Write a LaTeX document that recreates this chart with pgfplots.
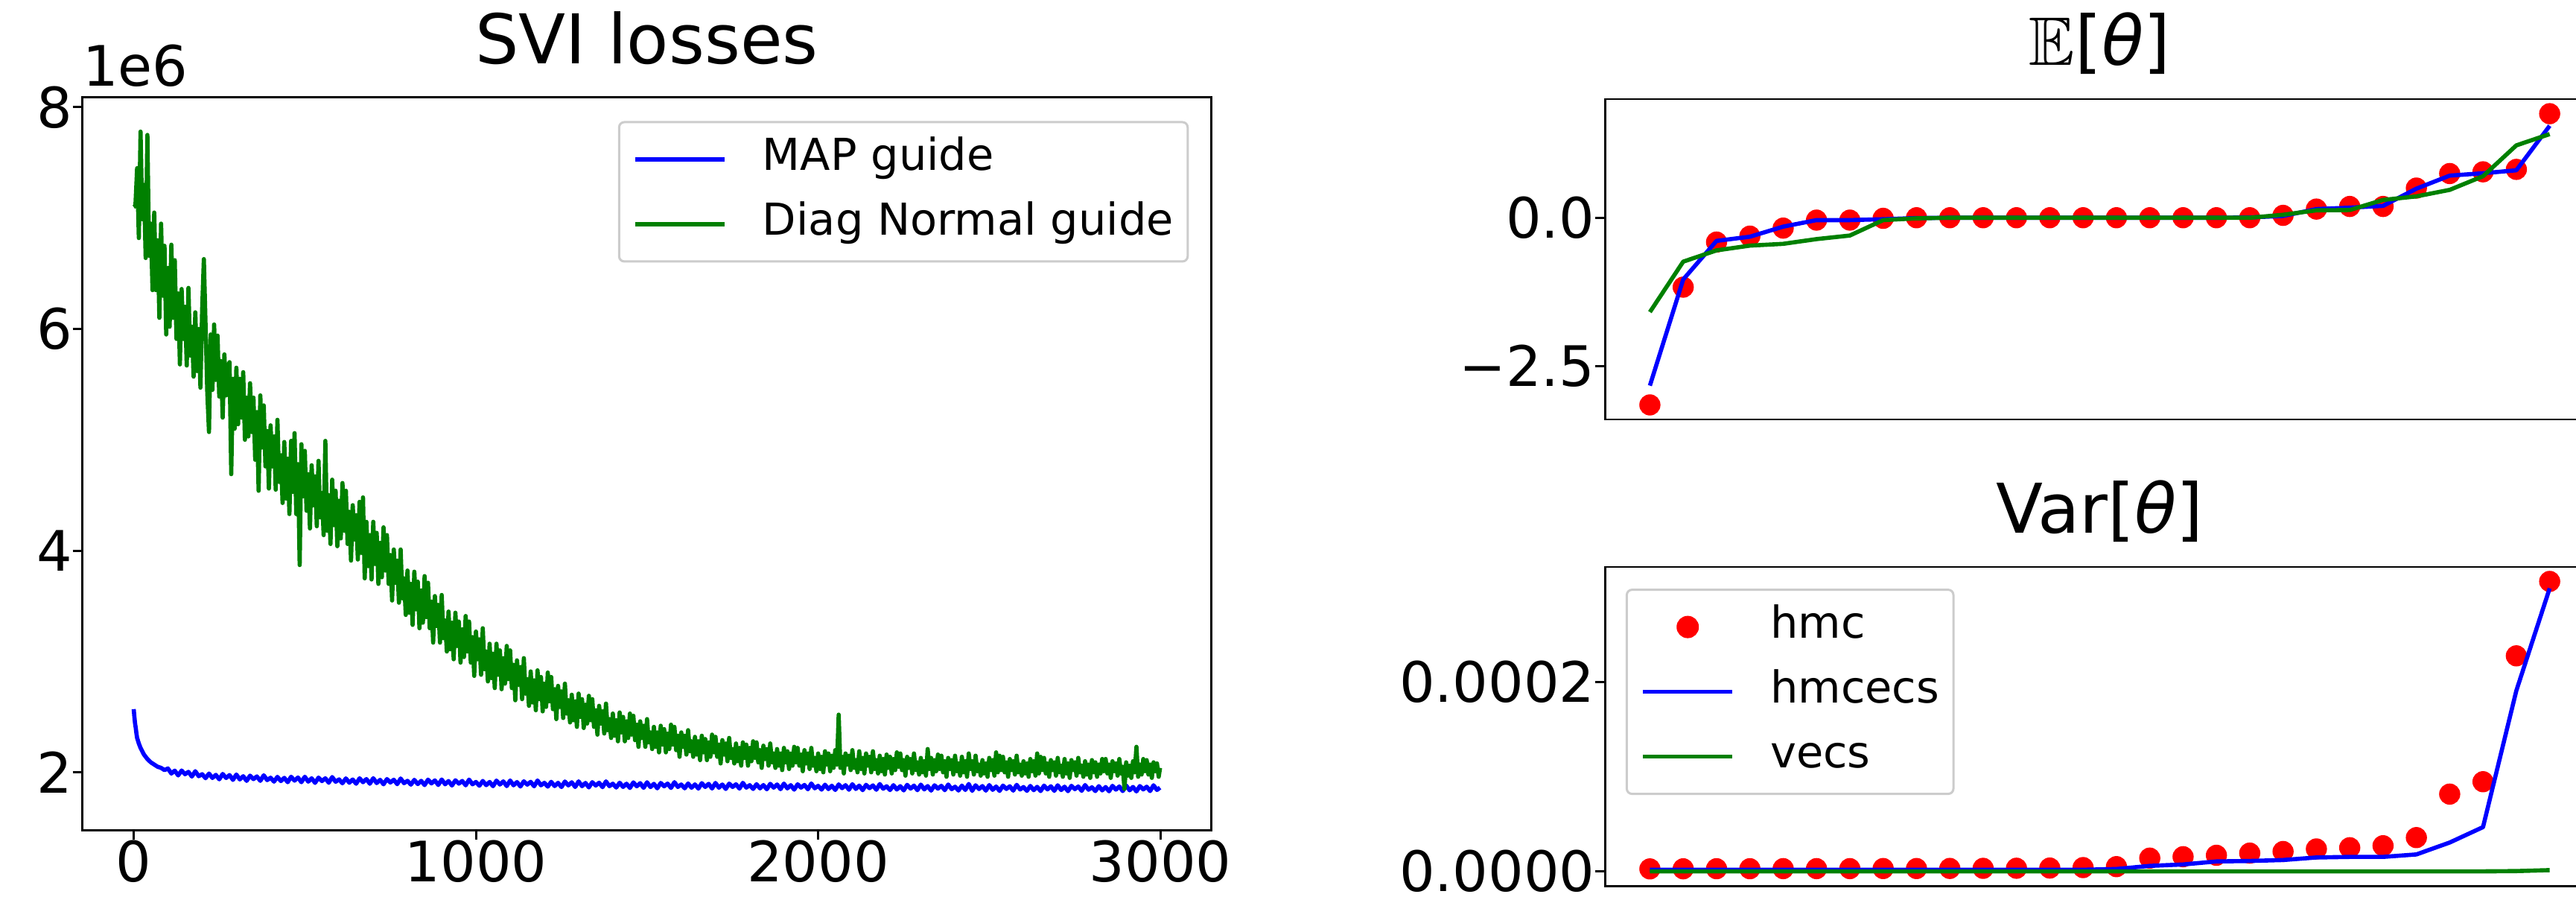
\documentclass[border=0pt]{standalone}
\usepackage{pgfplots}
\pgfplotsset{compat=1.18}
\usepackage{amssymb}
\usepackage{fontspec}
\setmainfont{DejaVu Sans}
\definecolor{mplblue}{RGB}{0,0,255}
\definecolor{mplgreen}{RGB}{0,128,0}
\definecolor{mplred}{RGB}{255,0,0}
\newcommand{\tickfont}{\fontsize{21.3}{25}\selectfont}
\newcommand{\titlefont}{\fontsize{26.2}{31}\selectfont}
\newcommand{\legfont}{\fontsize{16.8}{20}\selectfont}

\pgfplotstableread{
x y
0 2.57
2 2.50
4 2.44
6 2.40
8 2.35
10 2.31
15 2.26
20 2.22
25 2.19
30 2.16
40 2.12
50 2.09
60 2.07
70 2.05
80 2.04
90 2.02
100 2.035
110 1.989
120 2.015
130 1.972
140 2.016
150 1.983
160 2.004
170 1.962
180 2.010
190 1.965
200 1.983
210 1.947
220 1.989
230 1.949
240 1.977
250 1.937
260 1.985
270 1.949
280 1.975
290 1.932
300 1.980
310 1.936
320 1.965
330 1.923
340 1.970
350 1.939
360 1.963
370 1.923
380 1.973
390 1.930
400 1.951
410 1.916
420 1.959
430 1.921
440 1.950
450 1.911
460 1.960
470 1.925
480 1.953
490 1.911
500 1.960
510 1.916
520 1.946
530 1.905
540 1.952
550 1.921
560 1.946
570 1.906
580 1.957
590 1.915
600 1.936
610 1.901
620 1.945
630 1.906
640 1.935
650 1.897
660 1.946
670 1.911
680 1.939
690 1.897
700 1.947
710 1.903
720 1.932
730 1.892
740 1.939
750 1.908
760 1.933
770 1.893
780 1.944
790 1.902
800 1.923
810 1.889
820 1.932
830 1.894
840 1.923
850 1.885
860 1.934
870 1.900
880 1.927
890 1.886
900 1.935
910 1.892
920 1.921
930 1.881
940 1.928
950 1.898
960 1.922
970 1.883
980 1.934
990 1.892
1000 1.913
1010 1.879
1020 1.922
1030 1.884
1040 1.913
1050 1.875
1060 1.925
1070 1.890
1080 1.918
1090 1.876
1100 1.926
1110 1.883
1120 1.912
1130 1.872
1140 1.919
1150 1.889
1160 1.914
1170 1.874
1180 1.926
1190 1.883
1200 1.905
1210 1.871
1220 1.914
1230 1.876
1240 1.905
1250 1.867
1260 1.917
1270 1.882
1280 1.910
1290 1.868
1300 1.918
1310 1.875
1320 1.904
1330 1.864
1340 1.911
1350 1.881
1360 1.906
1370 1.866
1380 1.918
1390 1.875
1400 1.897
1410 1.863
1420 1.906
1430 1.868
1440 1.897
1450 1.859
1460 1.909
1470 1.874
1480 1.902
1490 1.860
1500 1.910
1510 1.867
1520 1.896
1530 1.856
1540 1.904
1550 1.874
1560 1.898
1570 1.859
1580 1.911
1590 1.868
1600 1.890
1610 1.856
1620 1.899
1630 1.861
1640 1.891
1650 1.853
1660 1.902
1670 1.868
1680 1.896
1690 1.854
1700 1.904
1710 1.861
1720 1.890
1730 1.850
1740 1.898
1750 1.868
1760 1.892
1770 1.853
1780 1.905
1790 1.862
1800 1.884
1810 1.850
1820 1.893
1830 1.855
1840 1.885
1850 1.847
1860 1.896
1870 1.862
1880 1.890
1890 1.848
1900 1.898
1910 1.855
1920 1.884
1930 1.844
1940 1.892
1950 1.862
1960 1.886
1970 1.847
1980 1.899
1990 1.856
2000 1.878
2010 1.844
2020 1.888
2030 1.849
2040 1.879
2050 1.841
2060 1.891
2070 1.857
2080 1.884
2090 1.843
2100 1.893
2110 1.850
2120 1.880
2130 1.839
2140 1.887
2150 1.857
2160 1.882
2170 1.843
2180 1.894
2190 1.852
2200 1.874
2210 1.840
2220 1.884
2230 1.845
2240 1.875
2250 1.837
2260 1.887
2270 1.853
2280 1.880
2290 1.839
2300 1.889
2310 1.846
2320 1.876
2330 1.835
2340 1.883
2350 1.853
2360 1.878
2370 1.839
2380 1.890
2390 1.848
2400 1.870
2410 1.836
2420 1.880
2430 1.841
2440 1.895
2450 1.833
2460 1.883
2470 1.849
2480 1.876
2490 1.835
2500 1.885
2510 1.842
2520 1.872
2530 1.832
2540 1.880
2550 1.850
2560 1.874
2570 1.835
2580 1.887
2590 1.845
2600 1.867
2610 1.833
2620 1.877
2630 1.839
2640 1.869
2650 1.831
2660 1.880
2670 1.846
2680 1.874
2690 1.833
2700 1.883
2710 1.840
2720 1.870
2730 1.830
2740 1.878
2750 1.848
2760 1.872
2770 1.833
2780 1.885
2790 1.843
2800 1.865
2810 1.831
2820 1.875
2830 1.837
2840 1.867
2850 1.829
2860 1.878
2870 1.844
2880 1.872
2890 1.831
2900 1.881
2910 1.838
2920 1.868
2930 1.828
2940 1.876
2950 1.846
2960 1.870
2970 1.831
2980 1.883
2990 1.841
2999 1.862
}\maptable

\pgfplotstableread{
x y
0 7.10
5 7.11
10 7.45
15 6.82
20 7.78
25 6.99
30 7.30
35 6.64
40 7.75
45 6.66
50 6.95
55 6.35
60 7.05
65 6.35
70 6.80
75 6.10
80 6.95
85 6.30
90 6.75
95 5.95
100 6.55
105 6.02
110 6.76
115 6.10
120 6.62
125 5.91
130 6.32
135 5.68
140 6.36
145 5.91
150 6.20
155 5.67
160 6.37
165 5.76
170 6.02
175 5.57
180 6.15
185 5.62
190 6.00
195 5.47
200 6.17
205 6.63
210 6.03
215 5.43
220 5.07
225 5.95
230 5.45
235 6.04
240 5.54
245 5.94
250 5.39
255 5.71
260 5.20
265 5.77
270 5.40
275 5.65
280 5.70
285 4.69
290 5.55
295 5.10
300 5.65
305 5.14
310 5.55
315 5.20
320 5.61
325 5.00
330 5.38
335 5.03
340 5.51
345 5.07
350 5.38
355 4.82
360 5.25
365 4.54
370 5.40
375 4.93
380 5.31
385 4.76
390 5.08
395 4.56
400 5.13
405 4.76
410 5.03
415 4.55
420 5.18
425 4.62
430 4.86
435 4.43
440 4.98
445 4.47
450 4.83
455 4.33
460 4.99
465 4.53
470 5.06
475 4.33
480 4.78
485 3.87
490 4.96
495 4.49
500 4.90
505 4.36
510 4.69
515 4.20
520 4.77
525 4.41
530 4.67
535 4.22
540 4.81
545 4.30
550 4.52
555 4.14
560 4.99
565 4.18
570 4.50
575 4.06
580 4.64
585 4.23
590 4.54
595 4.04
600 4.45
605 4.11
610 4.61
615 4.18
620 4.54
625 4.06
630 4.35
635 3.91
640 4.41
645 4.10
650 4.32
655 3.92
660 4.44
665 3.98
670 4.48
675 3.75
680 4.26
685 3.86
690 4.14
695 3.74
700 4.26
705 3.88
710 4.16
715 3.70
720 4.07
725 3.76
730 4.21
735 3.82
740 4.14
745 3.70
750 3.96
755 3.55
760 4.01
765 3.71
770 3.91
775 3.53
780 4.01
785 3.57
790 3.75
795 3.42
800 3.82
805 3.44
810 3.70
815 3.33
820 3.81
825 3.47
830 3.72
835 3.30
840 3.64
845 3.35
850 3.77
855 3.40
860 3.71
865 3.30
870 3.54
875 3.17
880 3.59
885 3.32
890 3.51
895 3.17
900 3.60
905 3.21
910 3.37
915 3.09
920 3.45
925 3.11
930 3.35
935 3.02
940 3.44
945 3.14
950 3.36
955 2.99
960 3.29
965 3.04
970 3.41
975 3.09
980 3.36
985 2.99
990 3.22
995 2.87
1000 3.27
1005 3.02
1010 3.20
1015 2.88
1020 3.30
1025 2.93
1030 3.09
1035 2.82
1040 3.16
1045 2.85
1050 3.07
1055 2.76
1060 3.16
1065 2.88
1070 3.10
1075 2.75
1080 3.03
1085 2.80
1090 3.14
1095 2.84
1100 3.10
1105 2.76
1110 2.97
1115 2.65
1120 3.01
1125 2.79
1130 2.95
1135 2.66
1140 3.03
1145 2.71
1150 2.84
1155 2.60
1160 2.91
1165 2.63
1170 2.83
1175 2.56
1180 2.92
1185 2.66
1190 2.86
1195 2.55
1200 2.80
1205 2.59
1210 2.90
1215 2.64
1220 2.86
1225 2.57
1230 2.75
1235 2.48
1240 2.78
1245 2.59
1250 2.73
1255 2.49
1260 2.80
1265 2.53
1270 2.65
1275 2.45
1280 2.70
1285 2.47
1290 2.64
1295 2.41
1300 2.71
1305 2.50
1310 2.66
1315 2.40
1320 2.61
1325 2.44
1330 2.69
1335 2.47
1340 2.66
1345 2.41
1350 2.56
1355 2.34
1360 2.60
1365 2.44
1370 2.55
1375 2.35
1380 2.62
1385 2.38
1390 2.48
1395 2.31
1400 2.53
1405 2.33
1410 2.47
1415 2.28
1420 2.54
1425 2.36
1430 2.50
1435 2.28
1440 2.46
1445 2.31
1450 2.53
1455 2.34
1460 2.51
1465 2.29
1470 2.43
1475 2.23
1480 2.46
1485 2.31
1490 2.42
1495 2.23
1500 2.48
1505 2.27
1510 2.36
1515 2.21
1520 2.41
1525 2.23
1530 2.36
1535 2.18
1540 2.42
1545 2.25
1550 2.39
1555 2.18
1560 2.35
1565 2.21
1570 2.43
1575 2.25
1580 2.41
1585 2.20
1590 2.33
1595 2.14
1600 2.36
1605 2.23
1610 2.33
1615 2.16
1620 2.38
1625 2.19
1630 2.28
1635 2.14
1640 2.32
1645 2.16
1650 2.28
1655 2.11
1660 2.33
1665 2.18
1670 2.30
1675 2.11
1680 2.27
1685 2.14
1690 2.34
1695 2.18
1700 2.32
1705 2.14
1710 2.25
1715 2.08
1720 2.29
1725 2.16
1730 2.26
1735 2.10
1740 2.31
1745 2.13
1750 2.21
1755 2.08
1760 2.26
1765 2.10
1770 2.22
1775 2.06
1780 2.27
1785 2.13
1790 2.25
1795 2.06
1800 2.22
1805 2.10
1810 2.28
1815 2.13
1820 2.27
1825 2.09
1830 2.20
1835 2.04
1840 2.24
1845 2.12
1850 2.21
1855 2.06
1860 2.26
1865 2.09
1870 2.17
1875 2.04
1880 2.21
1885 2.06
1890 2.17
1895 2.02
1900 2.22
1905 2.09
1910 2.19
1915 2.03
1920 2.17
1925 2.06
1930 2.23
1935 2.09
1940 2.22
1945 2.06
1950 2.16
1955 2.01
1960 2.20
1965 2.08
1970 2.17
1975 2.03
1980 2.22
1985 2.06
1990 2.13
1995 2.01
2000 2.17
2005 2.03
2010 2.14
2015 2.00
2020 2.19
2025 2.07
2030 2.17
2035 2.01
2040 2.15
2045 2.04
2050 2.20
2055 2.07
2060 2.52
2065 2.04
2070 2.14
2075 1.99
2080 2.17
2085 2.07
2090 2.15
2095 2.02
2100 2.20
2105 2.04
2110 2.11
2115 2.00
2120 2.19
2125 2.03
2130 2.13
2135 1.99
2140 2.17
2145 2.06
2150 2.14
2155 2.00
2160 2.19
2165 2.03
2170 2.11
2175 1.99
2180 2.15
2185 2.01
2190 2.12
2195 1.98
2200 2.16
2205 2.04
2210 2.14
2215 1.99
2220 2.12
2225 2.02
2230 2.18
2235 2.05
2240 2.17
2245 2.02
2250 2.11
2255 1.97
2260 2.14
2265 2.04
2270 2.12
2275 1.99
2280 2.17
2285 2.02
2290 2.09
2295 1.98
2300 2.13
2305 2.00
2310 2.10
2315 1.97
2320 2.21
2325 2.03
2330 2.13
2335 1.98
2340 2.11
2345 2.01
2350 2.16
2355 2.03
2360 2.15
2365 2.00
2370 2.10
2375 1.96
2380 2.13
2385 2.03
2390 2.11
2395 1.98
2400 2.15
2405 2.01
2410 2.08
2415 1.97
2420 2.14
2425 2.00
2430 2.10
2435 1.96
2440 2.17
2445 2.03
2450 2.10
2455 1.98
2460 2.15
2465 2.01
2470 2.07
2475 1.97
2480 2.11
2485 1.99
2490 2.08
2495 1.96
2500 2.13
2505 2.02
2510 2.11
2515 1.97
2520 2.18
2525 2.00
2530 2.15
2535 2.02
2540 2.14
2545 2.00
2550 2.09
2555 1.96
2560 2.12
2565 2.02
2570 2.10
2575 1.98
2580 2.15
2585 2.00
2590 2.07
2595 1.97
2600 2.10
2605 1.99
2610 2.08
2615 1.96
2620 2.12
2625 2.01
2630 2.10
2635 1.97
2640 2.17
2645 1.99
2650 2.14
2655 2.02
2660 2.13
2665 1.99
2670 2.08
2675 1.96
2680 2.11
2685 2.02
2690 2.09
2695 1.97
2700 2.13
2705 2.00
2710 2.06
2715 1.96
2720 2.12
2725 1.99
2730 2.08
2735 1.95
2740 2.11
2745 2.02
2750 2.09
2755 1.97
2760 2.13
2765 2.00
2770 2.06
2775 1.96
2780 2.10
2785 1.98
2790 2.07
2795 1.95
2800 2.11
2805 2.00
2810 2.09
2815 1.96
2820 2.07
2825 1.99
2830 2.12
2835 2.01
2840 2.12
2845 1.99
2850 2.07
2855 1.95
2860 2.10
2865 2.01
2870 2.08
2875 1.97
2880 2.12
2885 1.99
2890 2.05
2895 1.85
2900 2.09
2905 1.97
2910 2.06
2915 1.95
2920 2.10
2925 2.00
2930 2.23
2935 1.96
2940 2.07
2945 1.98
2950 2.12
2955 2.01
2960 2.11
2965 1.98
2970 2.07
2975 1.95
2980 2.09
2985 2.01
2990 2.08
2995 1.96
2999 2.04
}\diagtable

\pgfplotstableread{
i hmc hmcecs vecs
0 -3.155 -2.83 -1.59
1 -1.17 -1.04 -0.74
2 -0.41 -0.39 -0.55
3 -0.31 -0.32 -0.47
4 -0.175 -0.15 -0.44
5 -0.04 -0.04 -0.36
6 -0.04 -0.04 -0.30
7 -0.01 -0.025 -0.04
8 0.0 -0.005 -0.01
9 0.0 0.0 0.0
10 0.0 0.0 0.0
11 0.0 0.0 0.0
12 0.0 0.0 0.0
13 0.0 0.0 0.0
14 0.0 0.0 0.0
15 0.0 0.0 0.0
16 0.0 0.0 0.0
17 0.0 0.0 0.0
18 0.0 0.005 0.0
19 0.04 0.03 0.05
20 0.146 0.146 0.125
21 0.19 0.17 0.13
22 0.19 0.20 0.30
23 0.50 0.49 0.36
24 0.745 0.71 0.47
25 0.774 0.75 0.70
26 0.815 0.80 1.22
27 1.754 1.55 1.41
}\meantable

\pgfplotstableread{
i hmc hmcecs vecs
0 2.6e-6 1.7e-6 0.0
1 2.7e-6 1.7e-6 0.0
2 2.8e-6 1.7e-6 0.0
3 2.8e-6 1.7e-6 0.0
4 2.9e-6 1.7e-6 0.0
5 2.9e-6 1.7e-6 0.0
6 2.9e-6 1.7e-6 0.0
7 3.0e-6 1.7e-6 0.0
8 3.0e-6 1.7e-6 0.0
9 3.1e-6 1.7e-6 0.0
10 3.2e-6 1.7e-6 0.0
11 3.3e-6 1.7e-6 0.0
12 3.5e-6 1.7e-6 0.0
13 4.0e-6 1.7e-6 0.0
14 5.0e-6 2.5e-6 0.0
15 1.4e-5 5.8e-6 0.0
16 1.55e-5 7.3e-6 0.0
17 1.7e-5 1.05e-5 0.0
18 1.93e-5 1.1e-5 0.0
19 2.1e-5 1.2e-5 0.0
20 2.37e-5 1.47e-5 0.0
21 2.5e-5 1.53e-5 0.0
22 2.71e-5 1.53e-5 0.0
23 3.57e-5 1.79e-5 0.0
24 8.17e-5 3.05e-5 0.0
25 9.48e-5 4.68e-5 0.0
26 2.279e-4 1.911e-4 3e-7
27 3.066e-4 2.993e-4 1.3e-6
}\vartable

\pgfplotsset{
  mystyle/.style={
    scale only axis,
    clip mode=individual,
    axis line style={line width=0.85pt},
    every tick/.style={black, line width=0.85pt},
    tick align=outside,
    tick pos=left,
    major tick length=0.13cm,
    tick label style={font=\tickfont, inner sep=0pt},
    scaled ticks=false,
    title style={font=\titlefont, at={(0.5,1)}, anchor=base, yshift=0.24cm},
    legend style={font=\legfont, draw=black!20, line width=0.03cm,
      rounded corners=0.07cm, fill=white, inner xsep=0.19cm, inner ysep=0.2cm,
      row sep=0.27cm, column sep=0.48cm,
      nodes={inner sep=0pt, text height=0.45cm, text depth=0.15cm}},
    legend cell align=left,
    legend image code/.code={\draw[##1, line width=1.6pt] (0cm,0cm) -- (1.2cm,0cm);},
  },
  ln/.style={line width=1.6pt, line join=round},
}

\begin{document}
\begin{tikzpicture}
% Left: SVI losses
\begin{axis}[mystyle,
  at={(1.106cm,0.89cm)}, anchor=south west,
  width=15.16cm, height=9.83cm,
  xmin=-150, xmax=3149, ymin=1.48, ymax=8.087,
  xtick={0,1000,2000,3000}, xticklabels={0,1000,2000,3000},
  ytick={2,4,6,8}, yticklabels={2,4,6,8},
  title={SVI losses},
  legend style={at={(0.980,0.968)}, anchor=north east},
]
\addplot[ln, mplblue] table[x=x, y=y] {\maptable};
\addlegendentry{MAP guide}
\addplot[ln, mplgreen] table[x=x, y=y] {\diagtable};
\addlegendentry{Diag Normal guide}
\node[font=\tickfont, anchor=base west, inner sep=0pt] at (rel axis cs:0,1) [yshift=0.15cm] {1e6};
\end{axis}

% Right top: E[theta]
\begin{axis}[mystyle,
  at={(21.55cm,6.40cm)}, anchor=south west,
  width=13.29cm, height=4.30cm,
  xmin=-1.35, xmax=28.35, ymin=-3.40, ymax=2.0,
  xtick=\empty,
  ytick={-2.5,0}, yticklabels={−2.5,0.0},
  title={$\mathbb{E}$[\textit{θ}]},
]
\addplot[only marks, mark=*, mark size=0.135cm, mplred, mark options={draw=mplred, fill=mplred}] table[x=i, y=hmc] {\meantable};
\addplot[ln, mplblue] table[x=i, y=hmcecs] {\meantable};
\addplot[ln, mplgreen] table[x=i, y=vecs] {\meantable};
\end{axis}

% Right bottom: Var[theta]
\begin{axis}[mystyle,
  at={(21.55cm,0.14cm)}, anchor=south west,
  width=13.29cm, height=4.28cm,
  xmin=-1.35, xmax=28.35, ymin=-1.53e-5, ymax=3.219e-4,
  xtick=\empty,
  ytick={0,0.0002}, yticklabels={0.0000,0.0002},
  title={Var[\textit{θ}]},
  legend style={at={(0.021,0.932)}, anchor=north west},
]
\addplot[only marks, mark=*, mark size=0.135cm, mplred, mark options={draw=mplred, fill=mplred},
  legend image code/.code={\fill[mplred] (0.6cm,0cm) circle (0.135cm);}] table[x=i, y=hmc] {\vartable};
\addlegendentry{hmc}
\addplot[ln, mplblue] table[x=i, y=hmcecs] {\vartable};
\addlegendentry{hmcecs}
\addplot[ln, mplgreen] table[x=i, y=vecs] {\vartable};
\addlegendentry{vecs}
\end{axis}
\pgfresetboundingbox
\useasboundingbox (0,0) rectangle (34.59,12.03);
\end{tikzpicture}
\end{document}
